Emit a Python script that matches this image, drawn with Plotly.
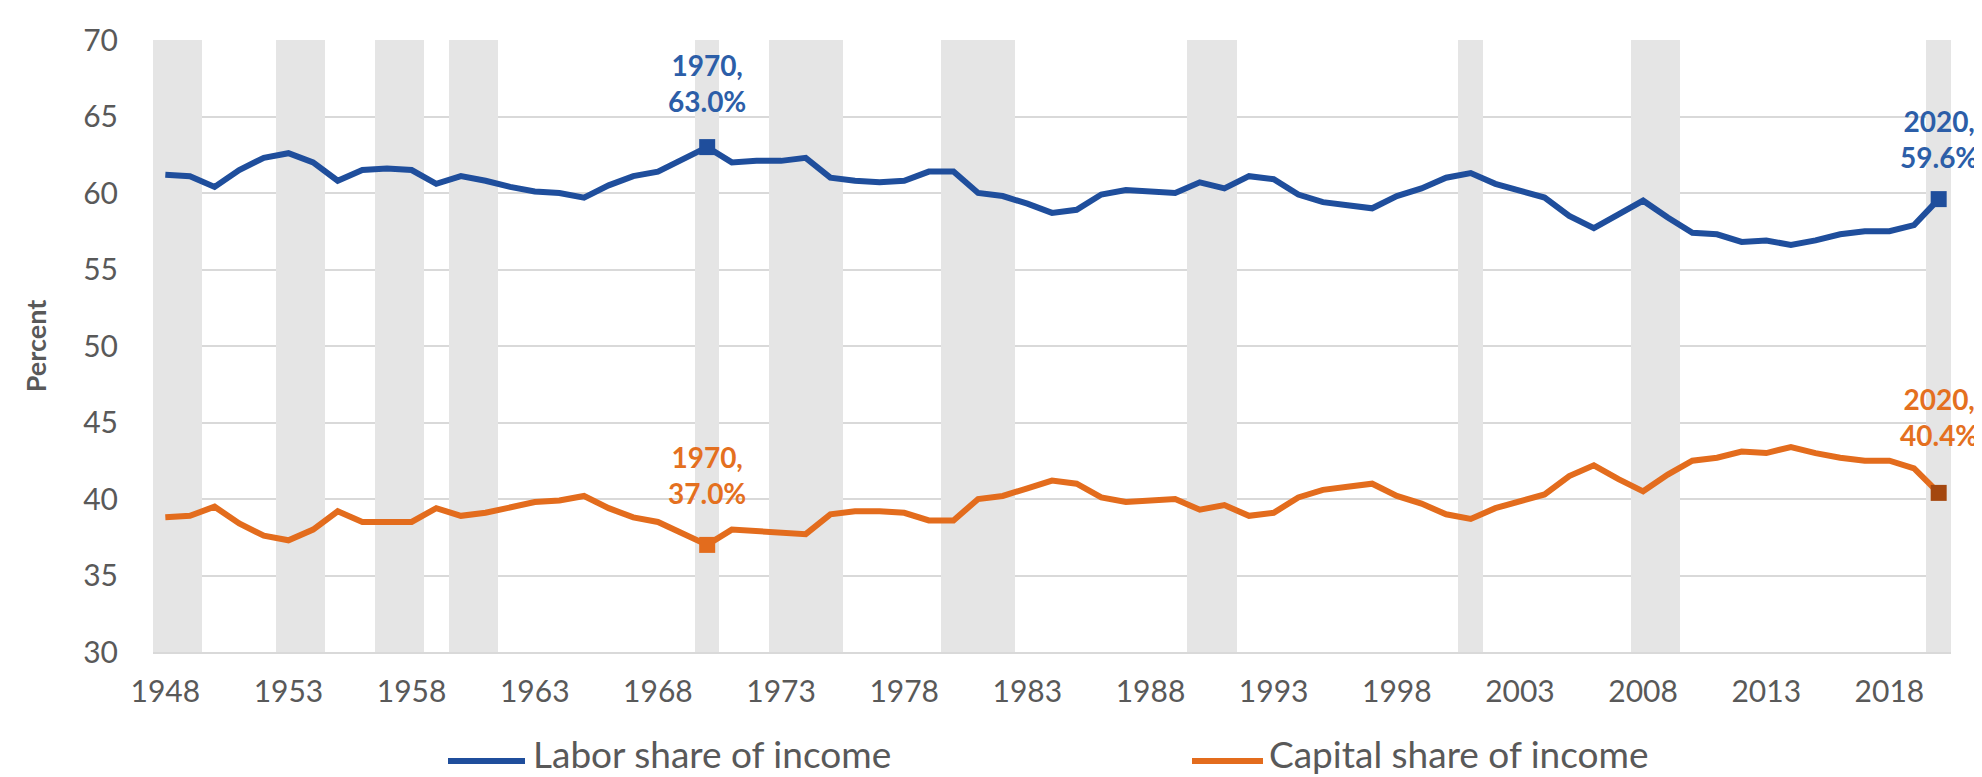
import plotly.graph_objects as go

# ---------------- data ----------------
years = list(range(1948, 2021))

labor_share = [
    61.2, 61.1, 60.4, 61.5, 62.3, 62.6, 62.0, 60.8, 61.5, 61.6,
    61.5, 60.6, 61.1, 60.8, 60.4, 60.1, 60.0, 59.7, 60.5, 61.1,
    61.4, 62.2, 63.0, 62.0, 62.1, 62.1, 62.3, 61.0, 60.8, 60.7,
    60.8, 61.4, 61.4, 60.0, 59.8, 59.3, 58.7, 58.9, 59.9, 60.2,
    60.1, 60.0, 60.7, 60.3, 61.1, 60.9, 59.9, 59.4, 59.2, 59.0,
    59.8, 60.3, 61.0, 61.3, 60.6, 60.2, 59.7, 58.5, 57.7, 58.6,
    59.5, 58.4, 57.4, 57.3, 56.8, 56.9, 56.6, 56.9, 57.3, 57.5,
    57.5, 57.9, 59.6,
]

capital_share = [
    38.8, 38.9, 39.5, 38.4, 37.6, 37.3, 38.0, 39.2, 38.5, 38.5,
    38.5, 39.4, 38.9, 39.1, 39.5, 39.8, 39.9, 40.2, 39.4, 38.8,
    38.5, 37.7, 37.0, 38.0, 37.9, 37.8, 37.7, 39.0, 39.2, 39.2,
    39.1, 38.6, 38.6, 40.0, 40.2, 40.7, 41.2, 41.0, 40.1, 39.8,
    39.9, 40.0, 39.3, 39.6, 38.9, 39.1, 40.1, 40.6, 40.8, 41.0,
    40.2, 39.7, 39.0, 38.7, 39.4, 39.8, 40.3, 41.5, 42.2, 41.3,
    40.5, 41.6, 42.5, 42.7, 43.1, 43.0, 43.4, 43.0, 42.7, 42.5,
    42.5, 42.0, 40.4,
]

recession_years = [1948, 1949, 1953, 1954, 1957, 1958, 1960, 1961, 1970,
                   1973, 1974, 1975, 1980, 1981, 1982, 1990, 1991, 2001,
                   2008, 2009, 2020]

tick_years = list(range(1948, 2019, 5))
y_ticks = list(range(30, 71, 5))

labor_name = "Labor share of income"
capital_name = "Capital share of income"
highlight_years = [1970, 2020]

# ---------------- styles ----------------
BLUE = "#1F4E9C"
BLUE_TXT = "#2C5EA8"
ORANGE = "#E36C1D"
ORANGE_TXT = "#E4701F"
ORANGE_DARK = "#A4470F"
BAND = "#E5E5E5"
GRID = "#D9D9D9"
TICK = "#595959"
FONT = "Lato"

y_lo, y_hi = y_ticks[0], y_ticks[-1]

fig = go.Figure()

# recession bands as full-height columns
fig.add_trace(go.Bar(
    x=recession_years,
    y=[y_hi - y_lo] * len(recession_years),
    base=y_lo,
    width=1,
    marker=dict(color=BAND, line=dict(width=0)),
    hoverinfo="skip",
    showlegend=False,
))

fig.add_trace(go.Scatter(
    x=years, y=labor_share, mode="lines", name=labor_name,
    line=dict(color=BLUE, width=6), showlegend=False,
))
fig.add_trace(go.Scatter(
    x=years, y=capital_share, mode="lines", name=capital_name,
    line=dict(color=ORANGE, width=6), showlegend=False,
))

# highlight markers
hl_lab = [labor_share[years.index(y)] for y in highlight_years]
hl_cap = [capital_share[years.index(y)] for y in highlight_years]
fig.add_trace(go.Scatter(
    x=highlight_years, y=hl_lab, mode="markers",
    marker=dict(symbol="square", size=16, color=BLUE),
    showlegend=False, hoverinfo="skip",
))
fig.add_trace(go.Scatter(
    x=highlight_years, y=hl_cap, mode="markers",
    marker=dict(symbol="square", size=16, color=[ORANGE, ORANGE_DARK]),
    showlegend=False, hoverinfo="skip",
))

# data labels
lab_shift = {1970: 64, 2020: 60}
cap_shift = {1970: 70, 2020: 76}
for yr, v in zip(highlight_years, hl_lab):
    fig.add_annotation(
        x=yr, y=v, xref="x", yref="y",
        text=f"<b>{yr},<br>{v:.1f}%</b>", showarrow=False,
        yanchor="middle", yshift=lab_shift[yr],
        font=dict(family=FONT, size=28, color=BLUE_TXT),
    )
for yr, v in zip(highlight_years, hl_cap):
    fig.add_annotation(
        x=yr, y=v, xref="x", yref="y",
        text=f"<b>{yr},<br>{v:.1f}%</b>", showarrow=False,
        yanchor="middle", yshift=cap_shift[yr],
        font=dict(family=FONT, size=28, color=ORANGE_TXT),
    )

# custom legend (below the plot)
PLOT_L, PLOT_R, PLOT_T, PLOT_B = 145, 1943, 32, 644
PLOT_W, PLOT_H = PLOT_R - PLOT_L, PLOT_B - PLOT_T
def px_x(px):
    return (px - PLOT_L) / PLOT_W
def px_y(py):
    return (PLOT_B - py) / PLOT_H

legend_items = [
    (labor_name, BLUE, 440, 517, 524),
    (capital_name, ORANGE, 1184, 1255, 1260),
]
for name, col, x0, x1, xt in legend_items:
    fig.add_shape(type="line", xref="paper", yref="paper",
                  x0=px_x(x0), x1=px_x(x1), y0=px_y(753), y1=px_y(753),
                  line=dict(color=col, width=6))
    fig.add_annotation(xref="paper", yref="paper", x=px_x(xt), y=px_y(769),
                       text=name, showarrow=False, xanchor="left",
                       yanchor="bottom", borderpad=0,
                       font=dict(family=FONT, size=37, color=TICK))

fig.update_layout(
    width=1982, height=777,
    margin=dict(l=PLOT_L, r=1982 - PLOT_R, t=PLOT_T, b=777 - PLOT_B),
    paper_bgcolor="white", plot_bgcolor="white",
    bargap=0,
    font=dict(family=FONT, color=TICK),
    showlegend=False,
)
fig.update_xaxes(
    range=[years[0] - 0.5, years[-1] + 0.5],
    tickvals=tick_years, ticktext=[str(t) for t in tick_years],
    tickfont=dict(family=FONT, size=30, color=TICK),
    showgrid=False, zeroline=False,
    showline=True, linecolor=GRID, linewidth=2,
    ticks="", ticklabelstandoff=12,
)
fig.update_yaxes(
    range=[y_lo, y_hi],
    tickvals=y_ticks,
    tickfont=dict(family=FONT, size=30, color=TICK),
    showgrid=True, gridcolor=GRID, gridwidth=2,
    zeroline=False, showline=False, ticks="",
    ticklabelstandoff=34,
    title=dict(text="<b>Percent</b>", standoff=28,
               font=dict(family=FONT, size=27, color=TICK)),
)

fig.write_html("out.html")
